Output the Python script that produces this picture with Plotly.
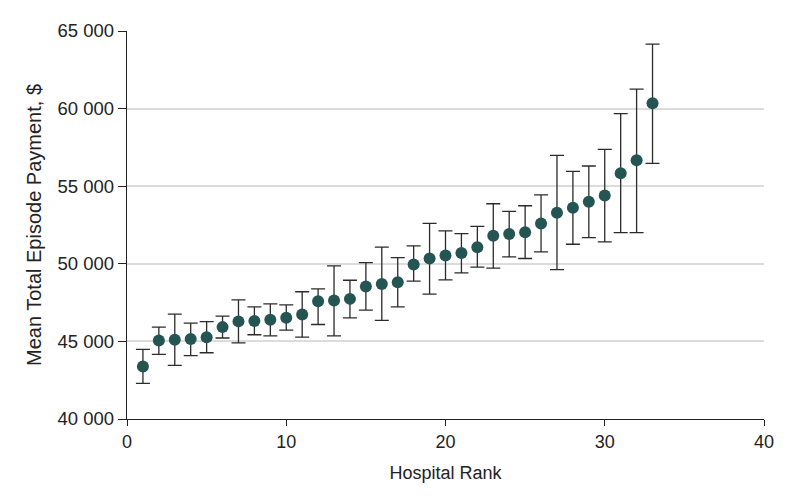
import plotly.graph_objects as go

rank = list(range(1, 34))
mean_payment = [43390, 45060, 45110, 45150, 45260, 45920, 46290, 46310, 46390, 46520,
                46740, 47590, 47630, 47740, 48530, 48700, 48810, 49960, 50340, 50540,
                50700, 51070, 51800, 51920, 52030, 52590, 53290, 53610, 54000, 54400,
                55830, 56670, 60340]
upper_ci = [44490, 45920, 46760, 46180, 46270, 46630, 47670, 47220, 47420, 47350,
            48200, 48390, 49860, 48940, 50080, 51080, 50400, 51150, 52610, 52120,
            51950, 52410, 53870, 53380, 53740, 54440, 56990, 55960, 56300, 57370,
            59680, 61260, 64150]
lower_ci = [42300, 44160, 43460, 44080, 44270, 45220, 44910, 45430, 45360, 45730,
            45280, 46090, 45360, 46520, 47010, 46350, 47220, 48880, 48040, 48960,
            49420, 49790, 49720, 50450, 50340, 50770, 49620, 51260, 51690, 51410,
            52010, 52010, 56470]

y_tick_vals = [40000, 45000, 50000, 55000, 60000, 65000]
y_tick_text = ["40 000", "45 000", "50 000", "55 000", "60 000", "65 000"]
x_tick_vals = [0, 10, 20, 30, 40]

err_plus = [u - m for u, m in zip(upper_ci, mean_payment)]
err_minus = [m - l for m, l in zip(mean_payment, lower_ci)]

FONT = "Liberation Sans, Arial, sans-serif"

fig = go.Figure()
fig.add_trace(go.Scatter(
    x=rank, y=mean_payment, mode="markers",
    marker=dict(size=12, color="#245553"),
    error_y=dict(type="data", symmetric=False, array=err_plus, arrayminus=err_minus,
                 color="#2b2b2b", thickness=1.3, width=7),
    showlegend=False,
))

fig.update_layout(
    width=794, height=504,
    margin=dict(l=119, r=38, t=21, b=93),
    paper_bgcolor="white", plot_bgcolor="white",
    font=dict(family=FONT, size=17, color="#222"),
    xaxis=dict(
        range=[0, 40], tickvals=x_tick_vals, showgrid=False, zeroline=False,
        showline=True, linecolor="#222", linewidth=1.3,
        ticks="outside", ticklen=6, tickwidth=1.3, tickcolor="#222",
        title=dict(text="Hospital Rank", standoff=15, font=dict(size=18)),
        tickfont=dict(size=18),
    ),
    yaxis=dict(
        range=[40000, 65000], tickvals=y_tick_vals, ticktext=y_tick_text,
        showgrid=True, gridcolor="#dcdcdc", gridwidth=1.5, zeroline=False,
        showline=True, linecolor="#222", linewidth=1.3,
        ticks="outside", ticklen=8, tickwidth=1.3, tickcolor="#222",
        title=dict(text="Mean Total Episode Payment, $", standoff=10, font=dict(size=20)),
        tickfont=dict(size=18.5),
    ),
)

fig.write_html("out.html")
